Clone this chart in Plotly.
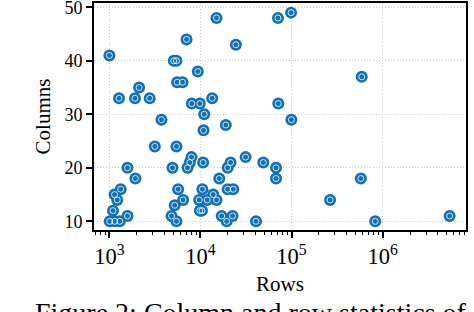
import plotly.graph_objects as go

rows = [1000, 1276, 1910, 2120, 2770, 5090, 5450, 5540, 6350, 7030,
        9350, 8040, 9840, 13450, 15000, 24500, 71000, 98900, 71600, 11000,
        3730, 10800, 19000, 99600, 3150, 5450, 7980, 31300, 4930, 7210,
        7640, 10700, 21400, 19900, 49000, 67600, 67600, 16100, 5690, 10500,
        19900, 22900, 13800, 6460, 9680, 11860, 15000, 5220, 9840, 10400,
        4810, 5450, 17100, 19400, 22500, 40700, 1580, 1930, 1330, 1140,
        1220, 1095, 1580, 1010, 1145, 1300, 591000, 265000, 577000, 830000,
        5450000]
columns = [41, 33, 33, 35, 33, 40, 40, 36, 36, 44,
           38, 32, 32, 33, 48, 43, 48, 49, 32, 30,
           29, 27, 28, 29, 24, 24, 22, 22, 20, 20,
           21, 21, 21, 20, 21, 20, 18, 18, 16, 16,
           16, 16, 15, 14, 14, 14, 14, 13, 12, 12,
           11, 10, 11, 10, 11, 10, 20, 18, 16, 15,
           14, 12, 11, 10, 10, 10, 37, 14, 18, 10,
           11]

x_title = "Rows"
y_title = "Columns"
caption = "Figure 2: Column and row statistics of"

BLUE = "#1271b5"
FONT = "Liberation Serif"

fig = go.Figure()
fig.add_trace(go.Scatter(x=rows, y=columns, mode="markers",
                         marker=dict(size=12, color=BLUE, line=dict(width=0)),
                         showlegend=False, hoverinfo="skip"))
fig.add_trace(go.Scatter(x=rows, y=columns, mode="markers",
                         marker=dict(symbol="circle-open", size=6,
                                     color="rgba(255,255,255,0.8)",
                                     line=dict(width=1)),
                         showlegend=False, hoverinfo="skip"))

axis_common = dict(showline=True, mirror=True, linecolor="black", linewidth=2,
                   ticks="outside", ticklen=6, tickwidth=1.5, tickcolor="black",
                   showgrid=True, gridcolor="#c8c8c8", gridwidth=1, griddash="1px,2px",
                   zeroline=False, automargin=False, ticklabeloverflow="allow",
                   tickfont=dict(family=FONT, size=18, color="black"))

fig.update_layout(
    width=474, height=312,
    margin=dict(l=94, r=8, t=3, b=82),
    paper_bgcolor="white", plot_bgcolor="white",
    xaxis=dict(type="log", range=[2.831, 6.916], dtick=1, exponentformat="power",
               minor=dict(ticks="outside", ticklen=3, tickwidth=1, tickcolor="black",
                          showgrid=False, dtick="D1"),
               title=dict(text=x_title, font=dict(family=FONT, size=21, color="black"),
                          standoff=8),
               **axis_common),
    yaxis=dict(range=[8.38, 50.8], tickvals=[10, 20, 30, 40, 50],
               title=dict(text=y_title, font=dict(family=FONT, size=21, color="black"),
                          standoff=8),
               **axis_common),
    annotations=[dict(text=caption, xref="paper", yref="paper",
                      x=-0.164, y=-0.288, xanchor="left", yanchor="top",
                      showarrow=False,
                      font=dict(family=FONT, size=28, color="black"))],
)

fig.write_html("out.html", config={"displayModeBar": False},
               post_script="document.body.style.margin='0';document.body.style.overflow='hidden';")
